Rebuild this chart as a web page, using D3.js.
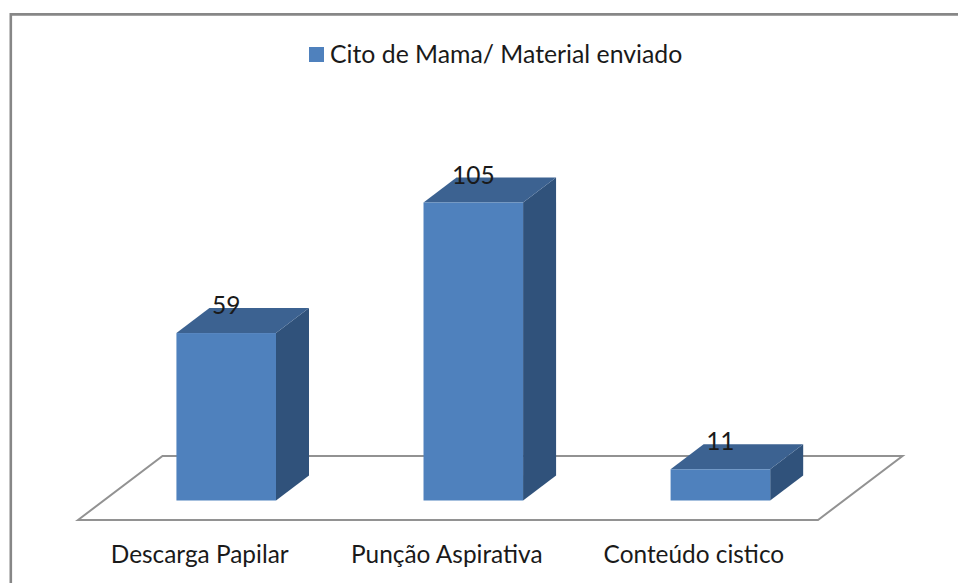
<!DOCTYPE html>
<html><head><meta charset="utf-8">
<style>html,body{margin:0;padding:0;background:#fff}svg{display:block}text{font-family:Lato,"Open Sans",sans-serif;fill:#1a1a1a}</style>
<script src="https://cdn.jsdelivr.net/npm/d3@7/dist/d3.min.js"></script>
</head><body><svg id="c" width="958" height="583"></svg>
<script>
const categories=["Descarga Papilar","Punção Aspirativa","Conteúdo cistico"];
const values=[59,105,11];
const seriesName="Cito de Mama/ Material enviado";

const svg=d3.select("#c");
const x=d3.scaleBand().domain(categories).range([102.8,843.8]).paddingInner(0.597).paddingOuter(0.298);
const y=d3.scaleLinear().domain([0,105]).range([500.5,202.5]);
const dx=33,dy=-25,floorDx=84.5,floorDy=-64,floorY=520;
const line=d3.line();

// frame
svg.append("path").attr("d",line([[10.8,583],[10.8,14.4],[958,14.4]]))
  .attr("fill","none").attr("stroke","#878787").attr("stroke-width",2.6);

// floor
svg.append("path").attr("d",line([[78,floorY],[78+floorDx,floorY+floorDy],[818+floorDx,floorY+floorDy],[818,floorY]])+"Z")
  .attr("fill","#fff").attr("stroke","#929292").attr("stroke-width",2);

// legend
svg.append("rect").attr("x",309).attr("y",47).attr("width",15).attr("height",15).attr("fill","#4f81bd");
svg.append("text").attr("x",330).attr("y",63).attr("font-size",24.8).text(seriesName);

// bars
const g=svg.selectAll("g.bar").data(categories.map((c,i)=>({c,v:values[i]}))).join("g").attr("class","bar");
g.append("path").attr("fill","#30527b").attr("d",d=>{
  const r=x(d.c)+x.bandwidth(),t=y(d.v),b=y(0);
  return line([[r,t],[r+dx,t+dy],[r+dx,b+dy],[r,b]])+"Z";});
g.append("path").attr("fill","#3c6291").attr("d",d=>{
  const l=x(d.c),r=l+x.bandwidth(),t=y(d.v);
  return line([[l,t],[l+dx,t+dy],[r+dx,t+dy],[r,t]])+"Z";});
g.append("rect").attr("fill","#4f81bd")
  .attr("x",d=>x(d.c)).attr("y",d=>y(d.v))
  .attr("width",x.bandwidth()).attr("height",d=>y(0)-y(d.v));
g.append("text").attr("text-anchor","middle").attr("font-size",24.5)
  .attr("x",d=>x(d.c)+x.bandwidth()/2).attr("y",d=>y(d.v)-19).text(d=>d.v);

// category labels
svg.selectAll("text.cat").data(categories).join("text").attr("class","cat")
  .attr("text-anchor","middle").attr("font-size",24.4)
  .attr("x",c=>x(c)+x.bandwidth()/2-26.5).attr("y",563).text(c=>c);
</script></body></html>
